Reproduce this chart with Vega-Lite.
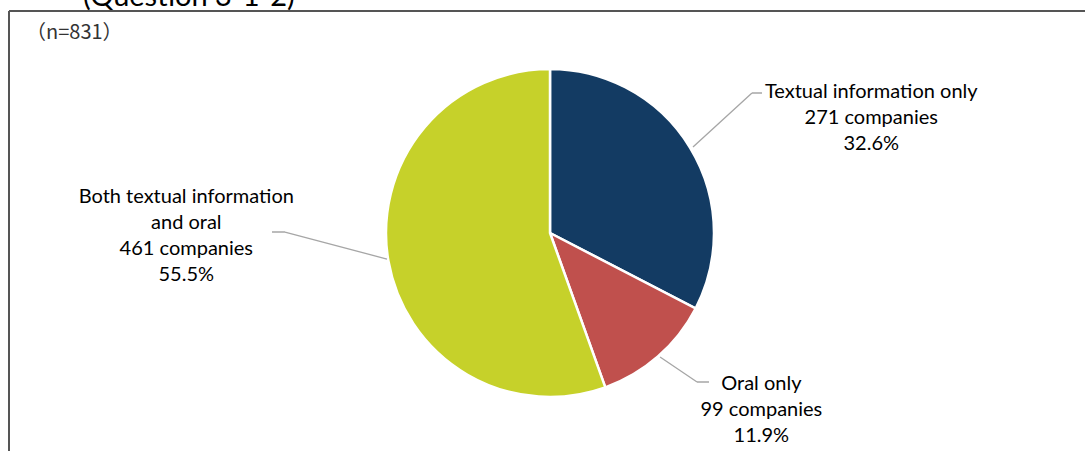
{
  "$schema": "https://vega.github.io/schema/vega-lite/v6.json",
  "width": 1076,
  "height": 440,
  "padding": {"left": 9, "top": 11, "right": 0, "bottom": 0},
  "autosize": {"type": "none"},
  "background": "white",
  "config": {"view": {"stroke": null}},
  "datasets": {
    "answers": [
      {"category": "Textual information only", "rank": 1, "count": 271, "label": ["Textual information only", "271 companies", "32.6%"]},
      {"category": "Oral only", "rank": 2, "count": 99, "label": ["Oral only", "99 companies", "11.9%"]},
      {"category": "Both textual information and oral", "rank": 3, "count": 461, "label": ["Both textual information", "and oral", "461 companies", "55.5%"]}
    ],
    "frame": [{"name": "frame"}]
  },
  "data": {"name": "answers"},
  "resolve": {"scale": {"theta": "independent"}},
  "layer": [
    {
      "data": {"name": "frame"},
      "mark": {"type": "rect", "fillOpacity": 0, "stroke": "#555555", "strokeWidth": 2, "strokeDash": [1076, 1516, 440, 0]},
      "encoding": {}
    },
    {
      "data": {"name": "frame"},
      "mark": {"type": "text", "text": "(Question 3-1-2)", "align": "left", "baseline": "alphabetic", "dx": -464, "dy": -225, "font": "Lato", "fontSize": 29, "color": "#000000"},
      "encoding": {}
    },
    {
      "data": {"name": "frame"},
      "mark": {"type": "text", "text": "（n=831）", "align": "left", "baseline": "middle", "dx": -521, "dy": -198, "font": "Noto Sans CJK JP", "fontSize": 20, "color": "#333333"},
      "encoding": {}
    },
    {
      "mark": {"type": "arc", "outerRadius": 164, "stroke": "white", "strokeWidth": 2.5, "xOffset": 3, "yOffset": 2},
      "encoding": {
        "theta": {"field": "count", "type": "quantitative", "stack": true},
        "order": {"field": "rank", "type": "quantitative"},
        "color": {
          "field": "category",
          "type": "nominal",
          "scale": {
            "domain": ["Textual information only", "Oral only", "Both textual information and oral"],
            "range": ["#133B63", "#C0504D", "#C6D12A"]
          },
          "legend": null
        }
      }
    },
    {
      "mark": {"type": "arc", "innerRadius": 40, "outerRadius": 120, "padAngle": 3, "thetaOffset": -0.1955, "stroke": "#A6A6A6", "strokeWidth": 1.3, "fillOpacity": 0, "xOffset": 116.5, "yOffset": -57},
      "encoding": {
        "theta": {"field": "count", "type": "quantitative", "stack": true},
        "order": {"field": "rank", "type": "quantitative"},
        "strokeOpacity": {"condition": {"test": "datum.rank === 1", "value": 1}, "value": 0}
      }
    },
    {
      "mark": {"type": "arc", "innerRadius": 10, "outerRadius": 20, "padAngle": 3, "thetaOffset": 0.5463, "stroke": "#A6A6A6", "strokeWidth": 1.3, "fillOpacity": 0, "xOffset": 195, "yOffset": -138},
      "encoding": {
        "theta": {"field": "count", "type": "quantitative", "stack": true},
        "order": {"field": "rank", "type": "quantitative"},
        "strokeOpacity": {"condition": {"test": "datum.rank === 1", "value": 1}, "value": 0}
      }
    },
    {
      "mark": {"type": "arc", "innerRadius": 40, "outerRadius": 84.6, "padAngle": 3, "thetaOffset": -0.259, "stroke": "#A6A6A6", "strokeWidth": 1.3, "fillOpacity": 0, "xOffset": 79.9, "yOffset": 103.6},
      "encoding": {
        "theta": {"field": "count", "type": "quantitative", "stack": true},
        "order": {"field": "rank", "type": "quantitative"},
        "strokeOpacity": {"condition": {"test": "datum.rank === 2", "value": 1}, "value": 0}
      }
    },
    {
      "mark": {"type": "arc", "innerRadius": 10, "outerRadius": 22, "padAngle": 3, "thetaOffset": -0.8525, "stroke": "#A6A6A6", "strokeWidth": 1.3, "fillOpacity": 0, "xOffset": 140, "yOffset": 151},
      "encoding": {
        "theta": {"field": "count", "type": "quantitative", "stack": true},
        "order": {"field": "rank", "type": "quantitative"},
        "strokeOpacity": {"condition": {"test": "datum.rank === 2", "value": 1}, "value": 0}
      }
    },
    {
      "mark": {"type": "arc", "innerRadius": 60, "outerRadius": 165.5, "padAngle": 3, "thetaOffset": 4.248, "stroke": "#A6A6A6", "strokeWidth": 1.3, "fillOpacity": 0, "xOffset": -102, "yOffset": 43.4},
      "encoding": {
        "theta": {"field": "count", "type": "quantitative", "stack": true, "scale": {"range": [0, 1]}},
        "order": {"field": "rank", "type": "quantitative"},
        "strokeOpacity": {"condition": {"test": "datum.rank === 3", "value": 1}, "value": 0}
      }
    },
    {
      "mark": {"type": "arc", "innerRadius": 10, "outerRadius": 23, "padAngle": 3, "thetaOffset": 3.99, "stroke": "#A6A6A6", "strokeWidth": 1.3, "fillOpacity": 0, "xOffset": -252, "yOffset": 1},
      "encoding": {
        "theta": {"field": "count", "type": "quantitative", "stack": true, "scale": {"range": [0, 1]}},
        "order": {"field": "rank", "type": "quantitative"},
        "strokeOpacity": {"condition": {"test": "datum.rank === 3", "value": 1}, "value": 0}
      }
    },
    {
      "mark": {"type": "text", "radius": 335, "dx": 38, "dy": 35.5, "font": "Lato", "fontSize": 20, "lineHeight": 26, "align": "center", "baseline": "middle", "color": "#000000"},
      "encoding": {
        "theta": {"field": "count", "type": "quantitative", "stack": true},
        "order": {"field": "rank", "type": "quantitative"},
        "text": {"condition": {"test": "datum.rank === 1", "field": "label"}, "value": ""}
      }
    },
    {
      "mark": {"type": "text", "radius": 271, "dx": 36, "dy": -51.5, "font": "Lato", "fontSize": 20, "lineHeight": 26, "align": "center", "baseline": "middle", "color": "#000000"},
      "encoding": {
        "theta": {"field": "count", "type": "quantitative", "stack": true},
        "order": {"field": "rank", "type": "quantitative"},
        "text": {"condition": {"test": "datum.rank === 2", "field": "label"}, "value": ""}
      }
    },
    {
      "mark": {"type": "text", "radius": 359, "dx": -7, "dy": -95, "font": "Lato", "fontSize": 20, "lineHeight": 26, "align": "center", "baseline": "middle", "color": "#000000"},
      "encoding": {
        "theta": {"field": "count", "type": "quantitative", "stack": true},
        "order": {"field": "rank", "type": "quantitative"},
        "text": {"condition": {"test": "datum.rank === 3", "field": "label"}, "value": ""}
      }
    }
  ]
}
